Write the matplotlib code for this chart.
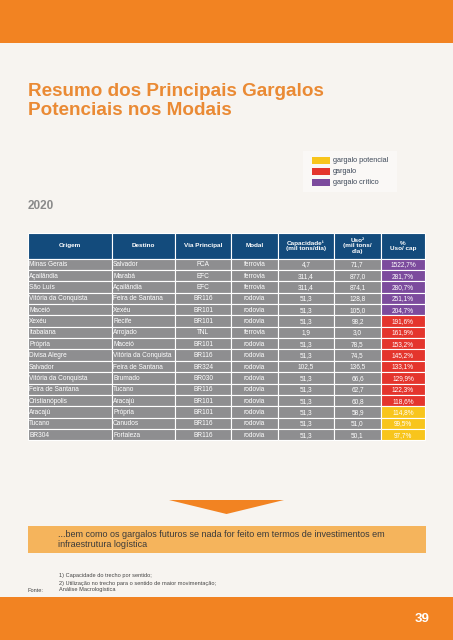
import matplotlib
matplotlib.use("Agg")
import matplotlib.pyplot as plt
from matplotlib.patches import Rectangle, Polygon

plt.rcParams["font.family"] = ["Liberation Sans", "DejaVu Sans"]

# table data
headers = ["Origem", "Destino", "Via Principal", "Modal",
           "Capacidade¹\n(mil tons/dia)", "Uso²\n(mil tons/\ndia)", "%\nUso/ cap"]
origem = ["Minas Gerais", "Açailândia", "São Luís", "Vitória da Conquista", "Maceió",
          "Xexéu", "Itabaiana", "Própria", "Divisa Alegre", "Salvador",
          "Vitória da Conquista", "Feira de Santana", "Cristianópolis", "Aracajú",
          "Tucano", "BR304"]
destino = ["Salvador", "Marabá", "Açailândia", "Feira de Santana", "Xexéu",
           "Recife", "Arrojado", "Maceió", "Vitória da Conquista", "Feira de Santana",
           "Brumado", "Tucano", "Aracajú", "Própria", "Canudos", "Fortaleza"]
via = ["FCA", "EFC", "EFC", "BR116", "BR101", "BR101", "TNL", "BR101", "BR116",
       "BR324", "BR030", "BR116", "BR101", "BR101", "BR116", "BR116"]
modal = ["ferrovia", "ferrovia", "ferrovia", "rodovia", "rodovia", "rodovia",
         "ferrovia", "rodovia", "rodovia", "rodovia", "rodovia", "rodovia",
         "rodovia", "rodovia", "rodovia", "rodovia"]
capacidade = [4.7, 311.4, 311.4, 51.3, 51.3, 51.3, 1.9, 51.3, 51.3, 102.5,
              51.3, 51.3, 51.3, 51.3, 51.3, 51.3]
uso = [71.7, 877.0, 874.1, 128.8, 105.0, 98.2, 3.0, 78.5, 74.5, 136.5,
       66.6, 62.7, 60.8, 58.9, 51.0, 50.1]
uso_cap = [1522.7, 281.7, 280.7, 251.1, 204.7, 191.6, 161.9, 153.2, 145.2, 133.1,
           129.9, 122.3, 118.6, 114.8, 99.5, 97.7]
nivel = ["critico"] * 5 + ["gargalo"] * 8 + ["potencial"] * 3

legend_labels = ["gargalo potencial", "gargalo", "gargalo crítico"]
legend_keys = ["potencial", "gargalo", "critico"]

ORANGE = "#f28322"
BG = "#f7f4f0"
HEAD = "#134b7c"
GRAY = "#8e8e90"
level_colors = {"potencial": "#f8c51c", "gargalo": "#e4352d", "critico": "#7c4b9d"}


def br(v):
    return f"{v:.1f}".replace(".", ",")


fig = plt.figure(figsize=(4.53, 6.4), dpi=100)
fig.patch.set_facecolor(BG)
ax = fig.add_axes([0, 0, 1, 1])
ax.set_xlim(0, 453)
ax.set_ylim(640, 0)
ax.axis("off")

# top and bottom bands
ax.add_patch(Rectangle((0, 0), 453, 43, color=ORANGE, lw=0))
ax.add_patch(Rectangle((0, 597), 453, 43, color=ORANGE, lw=0))
ax.text(430, 619, "39", color="white", fontsize=9.5, fontweight="bold", ha="right", va="center")

# title
ax.text(28, 101, "Resumo dos Principais Gargalos\nPotenciais nos Modais", color="#ea8a34",
        fontsize=13.6, fontweight="bold", va="center", ha="left", linespacing=1.12)

# legend
ax.add_patch(Rectangle((303, 151), 94, 41, color="#faf8f6", lw=0))
for i, (lab, key) in enumerate(zip(legend_labels, legend_keys)):
    y = 160.5 + i * 11
    ax.add_patch(Rectangle((312, y - 3.5), 18, 7, color=level_colors[key], lw=0))
    ax.text(333, y, lab, color="#3f4a5a", fontsize=5.3, va="center", ha="left")

ax.text(28, 206, "2020", color="#8a8a8a", fontsize=8.5, fontweight="bold", va="center")

# table
edges = [28, 112, 175, 231, 278, 334, 381, 425]
head_top, head_bot = 233, 258.5
row_h = 11.37
for j, h in enumerate(headers):
    x0, x1 = edges[j], edges[j + 1]
    ax.add_patch(Rectangle((x0, head_top), x1 - x0, head_bot - head_top,
                           facecolor=HEAD, edgecolor="white", lw=0.8))
    ax.text((x0 + x1) / 2, (head_top + head_bot) / 2, h, color="white", fontsize=4.6,
            fontweight="bold", ha="center", va="center", linespacing=1.1)

for i in range(len(origem)):
    y0 = head_bot + i * row_h
    yc = y0 + row_h / 2
    cells = [origem[i], destino[i], via[i], modal[i], br(capacidade[i]), br(uso[i]),
             br(uso_cap[i]) + "%"]
    for j, val in enumerate(cells):
        x0, x1 = edges[j], edges[j + 1]
        fc = level_colors[nivel[i]] if j == 6 else GRAY
        ax.add_patch(Rectangle((x0, y0), x1 - x0, row_h, facecolor=fc,
                               edgecolor="white", lw=0.8))
        if j < 2:
            ax.text(x0 + 1, yc + 2, val, color="white", fontsize=4.7, ha="left", va="baseline")
        else:
            ax.text((x0 + x1) / 2, yc + 2, val, color="white", fontsize=4.7,
                    ha="center", va="baseline")

# arrow
ax.add_patch(Polygon([(169, 500), (284, 500), (226.5, 514)], closed=True,
                     color=ORANGE, lw=0))

# message box
ax.add_patch(Rectangle((28, 526), 398, 27, color="#f5b45c", lw=0))
ax.text(58, 539.5, "...bem como os gargalos futuros se nada for feito em termos de investimentos em\n"
        "infraestrutura logística", color="#3a3a3a", fontsize=6.5, ha="left", va="center",
        linespacing=1.2)

# notes
note_kw = dict(color="#444444", fontsize=4.1, va="baseline")
ax.text(59, 577.5, "1) Capacidade do trecho por sentido;", **note_kw)
ax.text(59, 584.5, "2) Utilização no trecho para o sentido de maior movimentação;", **note_kw)
ax.text(28, 591.5, "Fonte:", **note_kw)
ax.text(59, 591.5, "Análise Macrologística", **note_kw)

fig.savefig("out.png", dpi=100, facecolor=BG)
